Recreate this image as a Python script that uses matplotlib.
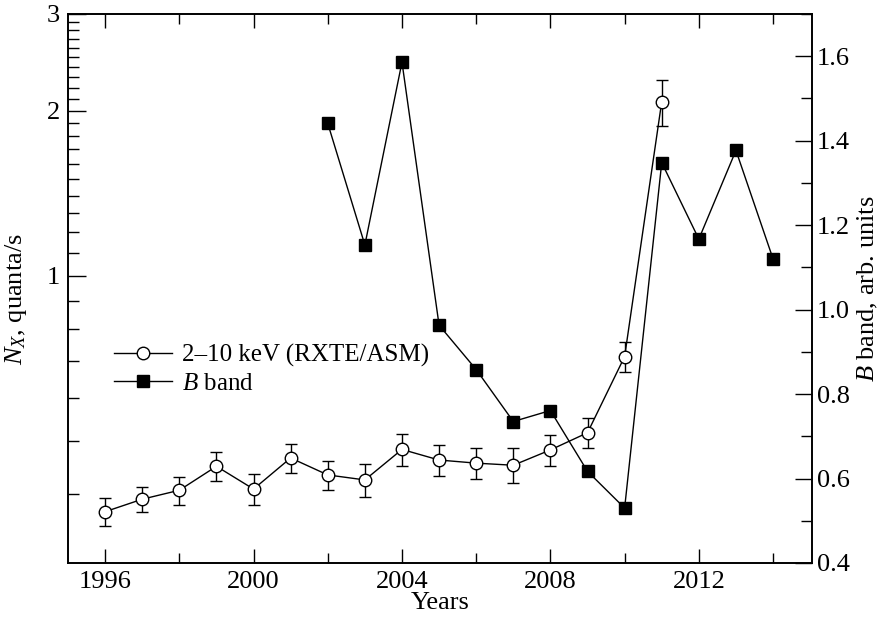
import matplotlib.pyplot as plt
import numpy as np
from matplotlib.ticker import FixedLocator, FixedFormatter, MultipleLocator

plt.rcParams['font.family'] = ['Liberation Serif', 'DejaVu Serif']
plt.rcParams['mathtext.fontset'] = 'custom'
plt.rcParams['mathtext.rm'] = 'Liberation Serif'
plt.rcParams['mathtext.it'] = 'Liberation Serif:italic'

# X-ray rate (RXTE/ASM, 2-10 keV), left log axis
years_x = [1996, 1997, 1998, 1999, 2000, 2001, 2002, 2003, 2004, 2005,
           2006, 2007, 2008, 2009, 2010, 2011]
nx = [0.372, 0.392, 0.407, 0.450, 0.409, 0.466, 0.434, 0.425, 0.483, 0.462,
      0.456, 0.452, 0.482, 0.518, 0.713, 2.077]
nx_err = [0.022, 0.020, 0.024, 0.027, 0.027, 0.028, 0.026, 0.029, 0.033, 0.030,
          0.030, 0.033, 0.031, 0.033, 0.046, 0.20]

# B band, right axis
years_b = [2002, 2003, 2004, 2005, 2006, 2007, 2008, 2009, 2010, 2011,
           2012, 2013, 2014]
bband = [1.441, 1.153, 1.586, 0.963, 0.858, 0.735, 0.761, 0.617, 0.530, 1.348,
         1.167, 1.377, 1.120]

f = plt.figure(figsize=(8.81, 6.22), dpi=100)
ax = f.add_axes([0.0772, 0.0949, 0.8445, 0.8826])
ax2 = ax.twinx()

ax.errorbar(years_x, nx, yerr=nx_err, fmt='none', ecolor='black',
            elinewidth=1.0, capsize=4.5, capthick=1.0, zorder=2)
p1, = ax.plot(years_x, nx, '-o', color='black', lw=1.0, ms=9,
              mfc='white', mec='black', mew=1.0, zorder=3)
p2, = ax2.plot(years_b, bband, '-s', color='black', lw=1.0, ms=8.5,
               mfc='black', mec='black')

ax.set_yscale('log')
ax.set_ylim(0.3, 3)
ax.set_xlim(1995, 2015.05)
ax2.set_ylim(0.4, 1.7)

ax.yaxis.set_major_locator(FixedLocator([1, 2, 3]))
ax.yaxis.set_major_formatter(FixedFormatter(['1', '2', '3']))
minors = [v / 10 for v in range(4, 30) if v % 10 != 0]
ax.yaxis.set_minor_locator(FixedLocator(minors))
ax.yaxis.set_minor_formatter(FixedFormatter([''] * len(minors)))

ax.xaxis.set_major_locator(MultipleLocator(4))
ax.xaxis.set_minor_locator(FixedLocator(list(range(1996, 2015, 2))))
ax2.yaxis.set_major_locator(MultipleLocator(0.2))
ax2.yaxis.set_minor_locator(MultipleLocator(0.1))
ax2.yaxis.set_major_formatter(plt.FuncFormatter(lambda v, p: "%.1f" % v))

ax.tick_params(axis='x', which='both', direction='in', top=True, labelsize=19, pad=6)
ax.tick_params(axis='x', which='major', length=10, width=1)
ax.tick_params(axis='x', which='minor', length=7, width=1)
ax.tick_params(axis='y', which='both', direction='in', right=False, labelsize=19, pad=6)
ax.tick_params(axis='y', which='major', length=13, width=1)
ax.tick_params(axis='y', which='minor', length=8, width=1)
ax2.tick_params(axis='y', which='both', direction='in', labelsize=19)
ax2.tick_params(axis='y', which='major', length=12, width=1)
ax2.tick_params(axis='y', which='minor', length=8, width=1)

for a in (ax, ax2):
    for s in a.spines.values():
        s.set_linewidth(1.2)

ax.set_xlabel("Years", fontsize=19, labelpad=-1)
ax.set_ylabel(r"$N_X$, quanta/s", fontsize=19)
ax.yaxis.set_label_coords(-0.052, 0.48)
ax2.set_ylabel(r"$B$ band, arb. units", fontsize=19, labelpad=4)

ax.legend((p1, p2), ("2\u201310 keV (RXTE/ASM)", r"$B$ band"),
          loc='upper left', bbox_to_anchor=(0.032, 0.44), frameon=False,
          fontsize=18, handlelength=2.3, handletextpad=0.4, labelspacing=0.2,
          numpoints=1)

f.savefig("out.png", dpi=100)
